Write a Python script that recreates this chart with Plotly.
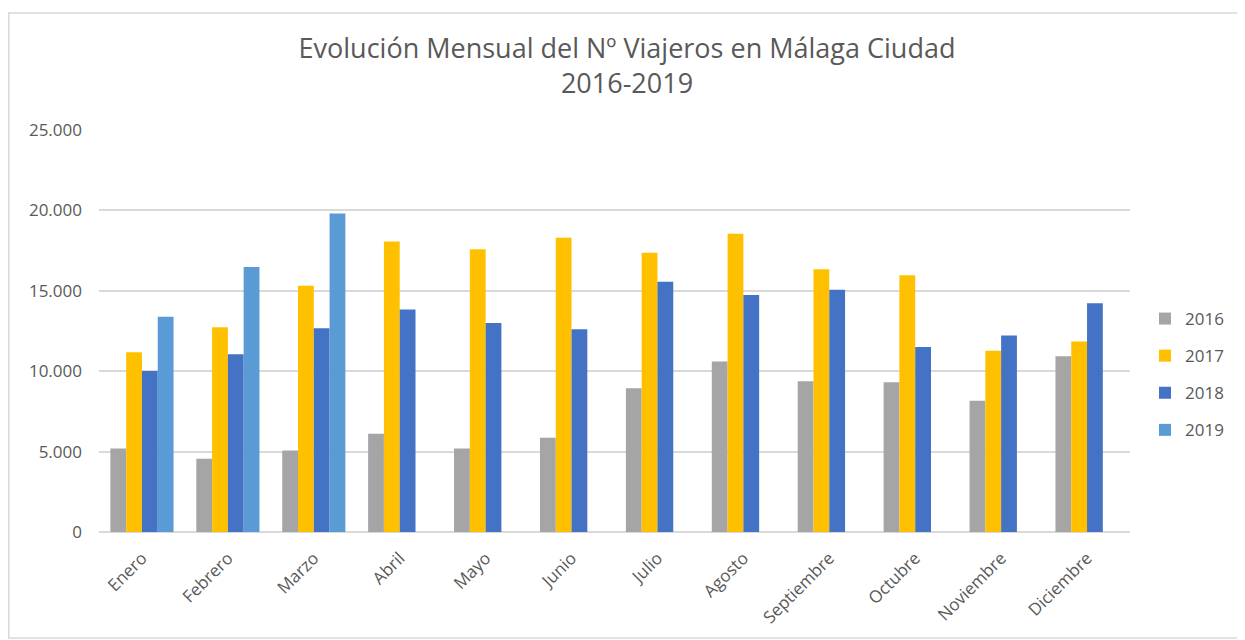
import plotly.graph_objects as go

meses = ["Enero", "Febrero", "Marzo", "Abril", "Mayo", "Junio", "Julio",
         "Agosto", "Septiembre", "Octubre", "Noviembre", "Diciembre"]
v2016 = [5200, 4560, 5070, 6110, 5200, 5860, 8940, 10600, 9380, 9320, 8160, 10930]
v2017 = [11180, 12730, 15320, 18070, 17580, 18300, 17370, 18550, 16340, 15960, 11270, 11840]
v2018 = [10020, 11060, 12670, 13830, 13000, 12610, 15570, 14740, 15060, 11510, 12220, 14220]
v2019 = [13380, 16480, 19810, None, None, None, None, None, None, None, None, None]

series = [("2016", v2016, "#A5A5A5"), ("2017", v2017, "#FFC000"),
          ("2018", v2018, "#4472C4"), ("2019", v2019, "#5B9BD5")]

# the page body has an 8px margin, so the figure starts at page (8, 8)
OFF = 8
W, H = 1245 - OFF, 640 - OFF
L, T = 99 - OFF, 130 - OFF
R = W - (1130 - OFF)
B = H - (532 - OFF)

fig = go.Figure()
for name, vals, col in series:
    fig.add_trace(go.Bar(x=meses, y=vals, name=name, marker_color=col,
                         marker_line_width=0, legendgroup=name))

txt = "#595959"
pw = W - L - R
ph = H - T - B


def px_x(page_px):
    return (page_px - OFF - L) / pw


def px_y(page_py):
    return (H - B - (page_py - OFF)) / ph


fig.update_layout(
    width=W, height=H,
    margin=dict(l=L, r=R, t=T, b=B, autoexpand=False),
    paper_bgcolor="white", plot_bgcolor="white",
    barmode="group", bargap=0.265, bargroupgap=0,
    separators=",.",
    title=dict(text="Evolución Mensual del Nº Viajeros en Málaga Ciudad<br>2016-2019",
               x=(627 - OFF) / W, xanchor="center", xref="container",
               y=1 - 50 / H, yanchor="top", yref="container",
               font=dict(family="Open Sans", size=27, color=txt)),
    font=dict(family="Open Sans", color=txt),
    legend=dict(x=px_x(1145), xanchor="left", y=px_y(301), yanchor="top",
                font=dict(size=17, color=txt), tracegroupgap=12,
                bgcolor="rgba(0,0,0,0)"),
    showlegend=True,
    shapes=[dict(type="rect", xref="paper", yref="paper",
                 x0=px_x(OFF + 0.75), x1=px_x(1243),
                 y0=px_y(638), y1=px_y(13),
                 line=dict(color="#D9D9D9", width=1.5), fillcolor="rgba(0,0,0,0)",
                 layer="below")],
)
fig.update_yaxes(range=[0, 25000], dtick=5000, tickformat=",d",
                 showgrid=True, gridcolor="#D9D9D9", gridwidth=1.5,
                 zeroline=True, zerolinecolor="#D9D9D9", zerolinewidth=1.5,
                 showline=False, ticks="", ticklabelstandoff=16,
                 tickfont=dict(size=17, color=txt))
fig.update_xaxes(tickangle=-45, showgrid=False, showline=False, ticks="",
                 tickfont=dict(size=17, color=txt), ticklabelstandoff=12)

fig.write_html("out.html")
